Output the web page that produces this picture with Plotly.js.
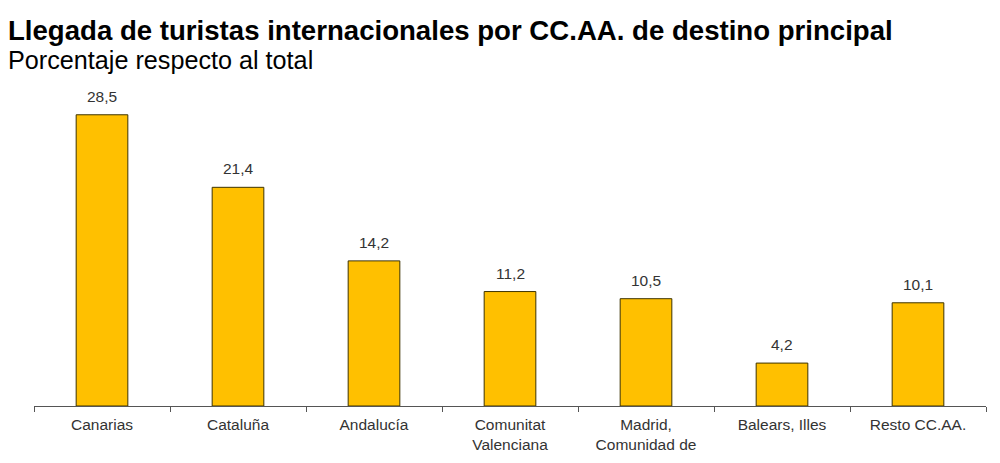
<!DOCTYPE html>
<html>
<head>
<meta charset="utf-8">
<script src="https://cdn.plot.ly/plotly-3.0.1.min.js"></script>
<style>
body{margin:0;padding:0;background:#fff;}
#chart{width:1000px;height:463px;}
</style>
</head>
<body>
<div id="chart"></div>
<script>
// datos: llegada de turistas por CC.AA. (%)
var regiones = ['Canarias', 'Cataluña', 'Andalucía', 'Comunitat<br>Valenciana', 'Madrid,<br>Comunidad de', 'Balears, Illes', 'Resto CC.AA.'];
var porcentajes = [28.5, 21.4, 14.2, 11.2, 10.5, 4.2, 10.1];
var etiquetas = ['28,5', '21,4', '14,2', '11,2', '10,5', '4,2', '10,1'];

var tituloTxt = 'Llegada de turistas internacionales por CC.AA. de destino principal';
var subtituloTxt = 'Porcentaje respecto al total';

function disp_bar(chartname){
	var PLOTMASTER = document.getElementById(chartname);
	var FONT = 'Liberation Sans, Arial, sans-serif';
	var data = [{
		x: regiones,
		y: porcentajes,
		type: 'bar',
		marker: {
			color: '#FFC000',
			line: {color: '#3d3300', width: 1}
		},
		hoverinfo: 'none'
	}];
	//etiquetas encima de cada barra
	var notas = [];
	for (var i = 0; i < regiones.length; i++){
		notas.push({
			x: regiones[i], y: porcentajes[i],
			xref: 'x', yref: 'y',
			text: etiquetas[i],
			showarrow: false,
			yanchor: 'bottom',
			yshift: 8,
			font: {family: FONT, size: 15.5, color: '#333333'}
		});
	}
	notas.push({
		text: '<b>' + tituloTxt + '</b>',
		xref: 'paper', yref: 'paper',
		x: -28/952, y: 1 + (79-13)/327,
		xanchor: 'left', yanchor: 'top',
		showarrow: false,
		font: {family: FONT, size: 27.6, color: '#000000'}
	});
	notas.push({
		text: subtituloTxt,
		xref: 'paper', yref: 'paper',
		x: -28/952, y: 1 + (79-44)/327,
		xanchor: 'left', yanchor: 'top',
		showarrow: false,
		font: {family: FONT, size: 25.2, color: '#000000'}
	});
	var layout = {
		width: 1000,
		height: 463,
		margin: {l: 34, r: 14, t: 79, b: 57},
		paper_bgcolor: '#ffffff',
		plot_bgcolor: '#ffffff',
		bargap: 0.62,
		showlegend: false,
		font: {family: FONT, color: '#333333'},
		xaxis: {
			type: 'category',
			showline: true,
			linecolor: '#555555',
			linewidth: 1,
			ticks: 'outside',
			tickson: 'boundaries',
			ticklen: 5,
			tickcolor: '#555555',
			ticklabelstandoff: 4,
			tickfont: {size: 15.5, color: '#333333'},
			showgrid: false,
			zeroline: false
		},
		yaxis: {
			range: [0, 32],
			visible: false,
			showgrid: false,
			zeroline: false
		},
		annotations: notas
	};
	Plotly.newPlot(PLOTMASTER, data, layout, {displayModeBar: false, staticPlot: true});
}
disp_bar('chart');
</script>
</body>
</html>
